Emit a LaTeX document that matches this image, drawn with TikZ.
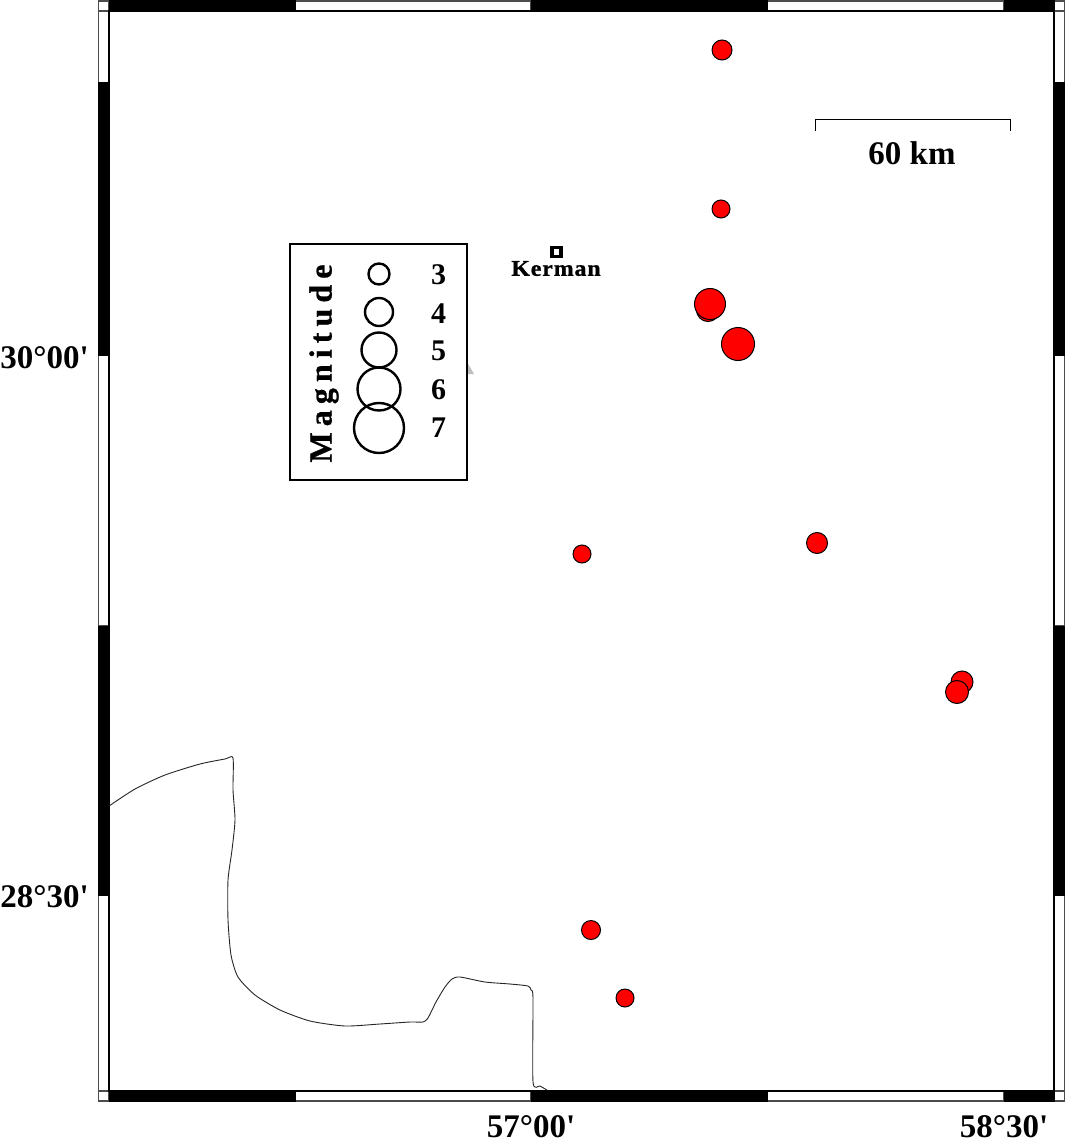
\documentclass[tikz,border=0pt]{standalone}
\usepackage{fontspec}
\setmainfont{Liberation Serif}
\newfontfamily\plainfont{Liberation Serif}
\newfontfamily\spacedfont{Liberation Serif Bold}[LetterSpace=19, FakeBold=0.8]
\newfontfamily\cityfont{Liberation Serif Bold}[LetterSpace=4, FakeBold=1, FakeStretch=1.06]
\usetikzlibrary{positioning}
\tikzset{
quake/.style={circle, draw=black, fill=red, line width=1pt, inner sep=0pt}, % red event circles
legendring/.style={circle, draw=black, line width=2.4pt, inner sep=0pt}, % open circles of the legend
ticklabel/.style={font=\fontsize{33}{33}\selectfont\bfseries\plainfont, inner sep=0pt}, % frame labels
legendnum/.style={font=\fontsize{30}{30}\selectfont\bfseries, inner sep=0pt},
blackbar/.style={fill=black, draw=black, line width=1pt},
whitebar/.style={fill=white, draw=black!70, line width=1.2pt},
}
\begin{document}
\begin{tikzpicture}[x=1pt, y=-1pt]
    \useasboundingbox[fill=white] (0,0) rectangle (1066,1139);

    % top and bottom frame
    \foreach \ytop/\ybot in {1/11, 1091/1101} {
        \foreach \xa/\xb in {295/531, 767/1004, 98.5/109, 1054/1064.5}
            \draw[whitebar] (\xa,\ytop) rectangle (\xb,\ybot);
        \foreach \xa/\xb in {109/295, 531/767, 1004/1054}
            \draw[blackbar] (\xa,\ytop) rectangle (\xb,\ybot);
    }
    % left and right frame
    \foreach \xl/\xr in {98.5/109, 1054/1064.5} {
        \foreach \ya/\yb in {11/83, 355/626, 895/1091}
            \draw[whitebar] (\xl,\ya) rectangle (\xr,\yb);
        \foreach \ya/\yb in {83/355, 626/895}
            \draw[blackbar] (\xl,\ya) rectangle (\xr,\yb);
    }
    \draw[line width=1.3pt] (109,11) rectangle (1054,1091);

    % frame labels
    \node[ticklabel, anchor=east] (lat30) at (89,358) {30°00'};
    \node[ticklabel, anchor=east] (lat28) at (89,897) {28°30'};
    \node[ticklabel] (lon57) at (531,1126.5) {57°00'};
    \node[ticklabel] (lon58) at (1004,1126.5) {58°30'};

    % border line
    \draw[line width=0.9pt, black!85] plot[smooth, tension=0.4] coordinates {
        (109,806) (135,789) (165,775) (200,764) (225,759) (233,758)
        (233,790) (235,820) (232,850) (228,880) (228,920) (231,955)
        (238,977) (255,995) (280,1010) (310,1021) (345,1026) (380,1024)
        (410,1022) (423,1022) (428,1018) (436,1002) (445,987) (452,979)
        (460,977) (485,982) (510,984) (528,986) (531,990) (533,998)
        (533,1082) (540,1086) (547,1090)};

    % events
    \node[quake, minimum size=20pt] (ev1) at (722,50) {};
    \node[quake, minimum size=18pt] (ev2) at (721,209) {};
    \node[quake, minimum size=23pt] (ev3) at (708,310) {};
    \node[quake, minimum size=31pt] (ev4) at (710,304) {};
    \node[quake, minimum size=33pt] (ev5) at (738,344) {};
    \node[quake, minimum size=18pt] (ev6) at (582,554) {};
    \node[quake, minimum size=21pt] (ev7) at (817,543) {};
    \node[quake, minimum size=22pt] (ev8) at (962,682) {};
    \node[quake, minimum size=23pt] (ev9) at (957,692) {};
    \node[quake, minimum size=19pt] (ev10) at (591,930) {};
    \node[quake, minimum size=18pt] (ev11) at (625,998) {};

    % city
    \node[draw=black, line width=3.5pt, minimum size=9pt, inner sep=0pt] (city) at (556.5,252) {};
    \node[font=\fontsize{22.5}{22.5}\selectfont\cityfont, inner sep=0pt] (cityname) at (556,268.5) {Kerman};

    % scale bar
    \coordinate (sa) at (815,131);
    \coordinate (sb) at (1010,131);
    \draw[line width=1pt] (sa) -- (815,120) -- (1010,120) -- (sb);
    \node[font=\fontsize{33}{33}\selectfont\bfseries, inner sep=0pt] (scalelabel) at (912,153) {60 km};

    % legend
    \fill[black!25] (467,362) -- (474,374) -- (467,374) -- cycle;
    \node[draw=black, fill=white, line width=1.2pt, minimum width=177pt, minimum height=236pt, inner sep=0pt] (legendbox) at (378.5,362) {};
    \foreach \m/\ypos/\dia/\ylab in {3/274/21/275, 4/312/28/314, 5/350/35/351, 6/389/43/390, 7/428/50/428} {
        \node[legendring, minimum size=\dia pt] (ring\m) at (379,\ypos) {};
        \node[legendnum] (num\m) at (438.5,\ylab) {\m};
    }
    \node[rotate=90, font=\fontsize{32}{32}\selectfont\spacedfont, inner sep=0pt] (legendtitle) at (324,363.5) {Magnitude};
\end{tikzpicture}
\end{document}
